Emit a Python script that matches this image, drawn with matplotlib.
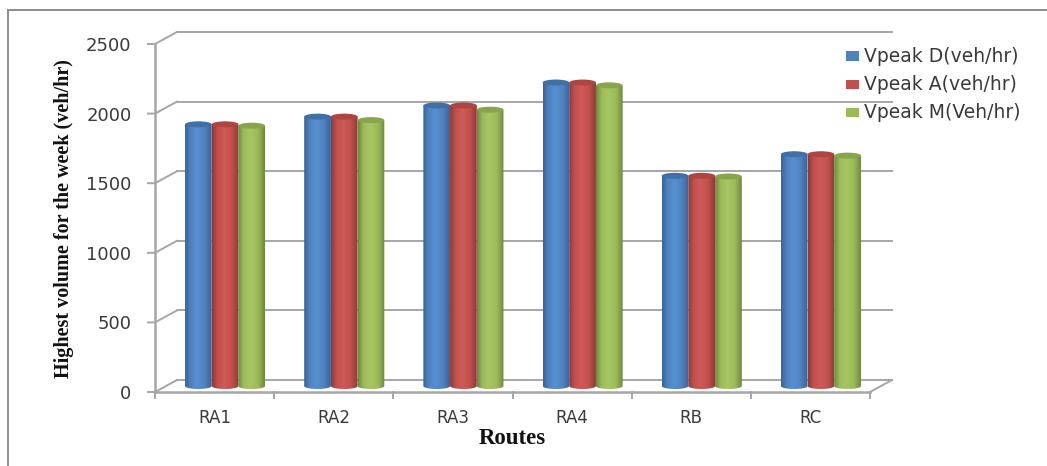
"""Highest weekly volume per route, drawn as fake-3D cylinder columns."""

import matplotlib
matplotlib.use("Agg")
import matplotlib.pyplot as plt
import numpy as np
from matplotlib.patches import Ellipse, Rectangle
from matplotlib.path import Path

routes = ["RA1", "RA2", "RA3", "RA4", "RB", "RC"]
vpeak_d = [1880, 1935, 2015, 2180, 1510, 1665]
vpeak_a = [1880, 1935, 2015, 2180, 1510, 1665]
vpeak_m = [1870, 1910, 1985, 2160, 1505, 1655]
y_ticks = [0, 500, 1000, 1500, 2000, 2500]
series_labels = ["Vpeak D(veh/hr)", "Vpeak A(veh/hr)", "Vpeak M(Veh/hr)"]

W, H = 1047, 466
GREY = "#a6a6a6"
TXT = "#3a3a3a"
FACE = ["#4f81bd", "#c0504d", "#9bbb59"]
LIGHT = ["#5690d2", "#d05a57", "#a6c763"]
DARK = ["#35659a", "#8f3b39", "#6f8a40"]
TOP = ["#3f70a6", "#ad4542", "#87a54a"]

fig = plt.figure(figsize=(W / 100, H / 100), dpi=100)
# axes box = front face of the chart floor, in pixels
x0, x1, y0, y1 = 155, 870, 392, 44
ax = fig.add_axes([x0 / W, 1 - y0 / H, (x1 - x0) / W, (y0 - y1) / H])
ax.set_xlim(0, len(routes))
ax.set_ylim(0, 2500)
ax.patch.set_alpha(0)
for s in ax.spines.values():
    s.set_visible(False)

px_x = len(routes) / (x1 - x0)
px_y = 2500 / (y0 - y1)
depth_x, depth_y = 22 * px_x, 12 * px_y

# back wall gridlines and side slants
for v in y_ticks:
    ax.plot([depth_x, len(routes) + depth_x], [v + depth_y] * 2, color=GREY, lw=1.4,
            clip_on=False, zorder=1)
    ax.plot([-7 * px_x, 0, depth_x], [v, v, v + depth_y], color=GREY, lw=1.4,
            clip_on=False, zorder=1)
ax.plot([len(routes), len(routes) + depth_x], [0, depth_y], color=GREY, lw=1.4,
        clip_on=False, zorder=1)
ax.plot([0, 0], [0, 2500], color=GREY, lw=1.8, clip_on=False, zorder=1)
ax.plot([0, len(routes)], [0, 0], color=GREY, lw=1.8, clip_on=False, zorder=1)
for i in range(len(routes) + 1):
    ax.plot([i, i], [0, -6 * px_y], color=GREY, lw=1.4, clip_on=False, zorder=1)

# cylinders
bar_w = 26.7 * px_x
ell_h = 6 * px_y
offs = [-bar_w, 0, bar_w]
shade_x = np.array([0, 0.2, 0.45, 0.75, 1])
for j, vals in enumerate([vpeak_d, vpeak_a, vpeak_m]):
    stops = np.array([matplotlib.colors.to_rgb(c) for c in
                      [DARK[j], FACE[j], LIGHT[j], FACE[j], DARK[j]]])
    t = np.linspace(0, 1, 40)
    grad = np.stack([np.interp(t, shade_x, stops[:, k]) for k in range(3)], axis=1)[None, :, :]
    for i, v in enumerate(vals):
        cx = i + 0.5 + offs[j] + depth_x / 2 - 0.5 * px_x
        base = depth_y / 2
        left, right = cx - bar_w / 2, cx + bar_w / 2
        im = ax.imshow(grad, extent=[left, right, base - ell_h / 2, v + base], aspect="auto",
                       zorder=3 + j * 0.1, interpolation="bilinear")
        # body outline: flat top, rounded bottom
        n = 30
        a = np.linspace(np.pi, 2 * np.pi, n)
        xs = cx + bar_w / 2 * np.cos(a)
        ys = base + ell_h / 2 * np.sin(a)
        verts = np.vstack([[[left, v + base]], np.column_stack([xs, ys]),
                           [[right, v + base]], [[left, v + base]]])
        im.set_clip_path(Path(verts), transform=ax.transData)
        ax.add_patch(Ellipse((cx, v + base), bar_w, ell_h, facecolor=TOP[j], edgecolor="none",
                             zorder=3.05 + j * 0.1, clip_on=False))
ax.set_xlim(0, len(routes))
ax.set_ylim(0, 2500)

ax.set_xticks(np.arange(len(routes)) + 0.5)
ax.set_xticklabels(routes, fontsize=12, color=TXT)
ax.set_yticks(y_ticks)
ax.set_yticklabels([str(v) for v in y_ticks], fontsize=13, color=TXT)
ax.tick_params(axis="both", length=0)
ax.tick_params(axis="x", pad=12)
ax.tick_params(axis="y", pad=17)

fig.text(512 / W, 1 - 438 / H, "Routes", family="Liberation Serif", weight="bold", fontsize=16.5,
         ha="center", va="center", color="#111111")
fig.text(64.5 / W, 1 - 219 / H, "Highest volume for the week (veh/hr)", family="Liberation Serif",
         weight="bold", fontsize=14.5, rotation=90, ha="center", va="center", color="#111111")

# legend by hand so the swatches land where they do in the source
for lab, c, ly in zip(series_labels, FACE, [56, 84.5, 113]):
    fig.add_artist(Rectangle((846 / W, 1 - (ly + 4.5) / H), 13 / W, 9 / H, facecolor=c,
                             edgecolor="none", transform=fig.transFigure))
    fig.text(864 / W, 1 - ly / H, lab, fontsize=13.5, color=TXT, ha="left", va="center")

# thin frame round the pasted chart
fig.add_artist(plt.Line2D([8 / W, 8 / W], [1 - 9.5 / H, 0], color="#8c8c8c", lw=1.4))
fig.add_artist(plt.Line2D([8 / W, 1], [1 - 9.5 / H, 1 - 9.5 / H], color="#8c8c8c", lw=1.4))

fig.savefig("out.png", dpi=100)
